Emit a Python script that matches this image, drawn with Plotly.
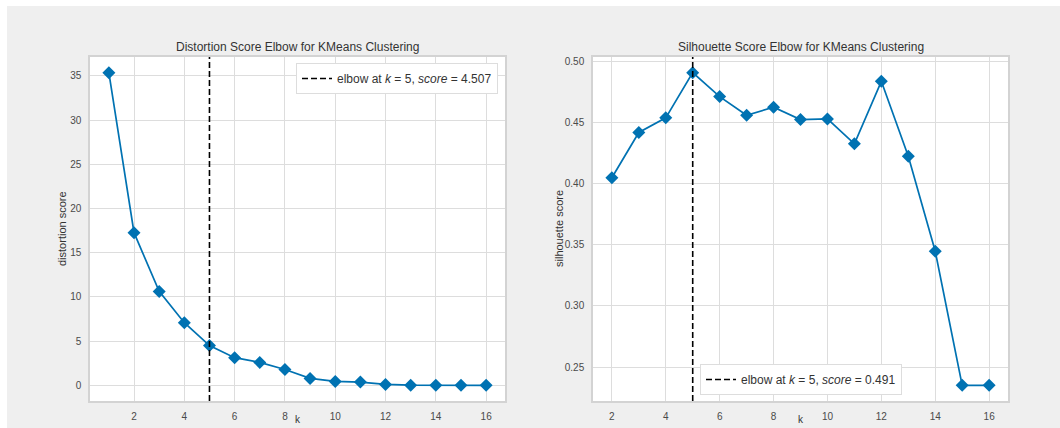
import plotly.graph_objects as go

# ---- data ----
k_dist = list(range(1, 17))
distortion = [35.37, 17.27, 10.63, 7.09, 4.507, 3.13, 2.60, 1.80, 0.79, 0.45, 0.37, 0.11, 0.02, 0.0, 0.0, 0.0]
k_sil = list(range(2, 17))
silhouette = [0.405, 0.442, 0.454, 0.491, 0.4714, 0.4561, 0.4627, 0.4526, 0.4531, 0.4327, 0.4839, 0.4226, 0.3448, 0.235, 0.235]
elbow_k = 5
elbow_dist = 4.507
elbow_sil = 0.491
titles = ["Distortion Score Elbow for KMeans Clustering", "Silhouette Score Elbow for KMeans Clustering"]
ylabels = ["distortion score", "silhouette score"]
xlabel = "k"

W, H = 1060, 428
def px(x):
    return x / W
def py(y):
    return 1 - y / H

LINE = "#0072B2"
TXT = "#4a4a4a"
GRID = "#dddddd"
SPINE = "#d3d3d3"
FONT = "Liberation Sans, Arial, sans-serif"

fig = go.Figure()

fig.add_trace(go.Scatter(x=k_dist, y=distortion, mode="lines+markers",
                         line=dict(color=LINE, width=1.7),
                         marker=dict(symbol="diamond", size=10, color=LINE),
                         showlegend=False, xaxis="x", yaxis="y"))
fig.add_trace(go.Scatter(x=k_sil, y=silhouette, mode="lines+markers",
                         line=dict(color=LINE, width=1.7),
                         marker=dict(symbol="diamond", size=10, color=LINE),
                         showlegend=False, xaxis="x2", yaxis="y2"))

def rng(vals, pad=0.05):
    lo, hi = min(vals), max(vals)
    d = (hi - lo) * pad
    return [lo - d, hi + d]

xr1 = rng(k_dist); yr1 = rng(distortion)
xr2 = rng(k_sil); yr2 = rng(silhouette)

# elbow lines (vertical dashed, full axis height)
fig.add_trace(go.Scatter(x=[elbow_k, elbow_k], y=yr1, mode="lines",
                         line=dict(color="black", width=1.6, dash="6px,3px"),
                         name="elbow at <i>k</i> = %d, <i>score</i> = %.3f" % (elbow_k, elbow_dist),
                         legend="legend", xaxis="x", yaxis="y", hoverinfo="skip"))
fig.add_trace(go.Scatter(x=[elbow_k, elbow_k], y=yr2, mode="lines",
                         line=dict(color="black", width=1.6, dash="6px,3px"),
                         name="elbow at <i>k</i> = %d, <i>score</i> = %.3f" % (elbow_k, elbow_sil),
                         legend="legend2", xaxis="x2", yaxis="y2", hoverinfo="skip"))

axis_common = dict(showgrid=True, gridcolor=GRID, gridwidth=1, zeroline=False,
                   showline=True, mirror=True, linecolor=SPINE, linewidth=1.5,
                   ticks="", tickfont=dict(size=10, color=TXT, family=FONT),
                   automargin=False, ticklabelstandoff=5)

fig.update_layout(
    width=W, height=H,
    margin=dict(l=0, r=0, t=0, b=0),
    paper_bgcolor="#efefef",
    plot_bgcolor="white",
    font=dict(family=FONT, color=TXT),
    xaxis=dict(domain=[px(90), px(505)], range=xr1, dtick=2, tick0=0, anchor="y", **axis_common),
    yaxis=dict(domain=[py(401), py(57)], range=yr1, dtick=5, tick0=0, anchor="x", **axis_common),
    xaxis2=dict(domain=[px(593), px(1008)], range=xr2, dtick=2, tick0=0, anchor="y2", **axis_common),
    yaxis2=dict(domain=[py(401), py(57)], range=yr2, dtick=0.05, tick0=0, tickformat=".2f", anchor="x2", **axis_common),
    legend=dict(x=px(498), y=py(63), xanchor="right", yanchor="top",
                bgcolor="white", bordercolor="#dddddd", borderwidth=1, itemwidth=30,
                font=dict(size=12, color="#333333", family=FONT)),
    legend2=dict(x=px(700), y=py(395), xanchor="left", yanchor="bottom",
                 bgcolor="white", bordercolor="#dddddd", borderwidth=1, itemwidth=30,
                 font=dict(size=12, color="#333333", family=FONT)),
    shapes=[
        dict(type="rect", xref="paper", yref="paper", x0=0, x1=px(7), y0=0, y1=1,
             fillcolor="white", line=dict(width=0), layer="below"),
        dict(type="rect", xref="paper", yref="paper", x0=0, x1=1, y0=py(6), y1=1,
             fillcolor="white", line=dict(width=0), layer="below"),
    ],
)

annots = [
    dict(text=titles[0], x=px(297.5), y=py(47), xanchor="center", yanchor="middle", font=dict(size=12, color="#333333")),
    dict(text=titles[1], x=px(800.5), y=py(47), xanchor="center", yanchor="middle", font=dict(size=12, color="#333333")),
    dict(text=ylabels[0], x=px(62), y=py(229), xanchor="center", yanchor="middle", textangle=-90, font=dict(size=11, color="#333333")),
    dict(text=ylabels[1], x=px(559), y=py(229), xanchor="center", yanchor="middle", textangle=-90, font=dict(size=11, color="#333333")),
    dict(text=xlabel, x=px(297.5), y=py(427), xanchor="center", yanchor="bottom", font=dict(size=10, color="#333333")),
    dict(text=xlabel, x=px(800.5), y=py(427), xanchor="center", yanchor="bottom", font=dict(size=10, color="#333333")),
]
for a in annots:
    a.update(xref="paper", yref="paper", showarrow=False)
    fig.add_annotation(**a)

fig.write_html("out.html")
